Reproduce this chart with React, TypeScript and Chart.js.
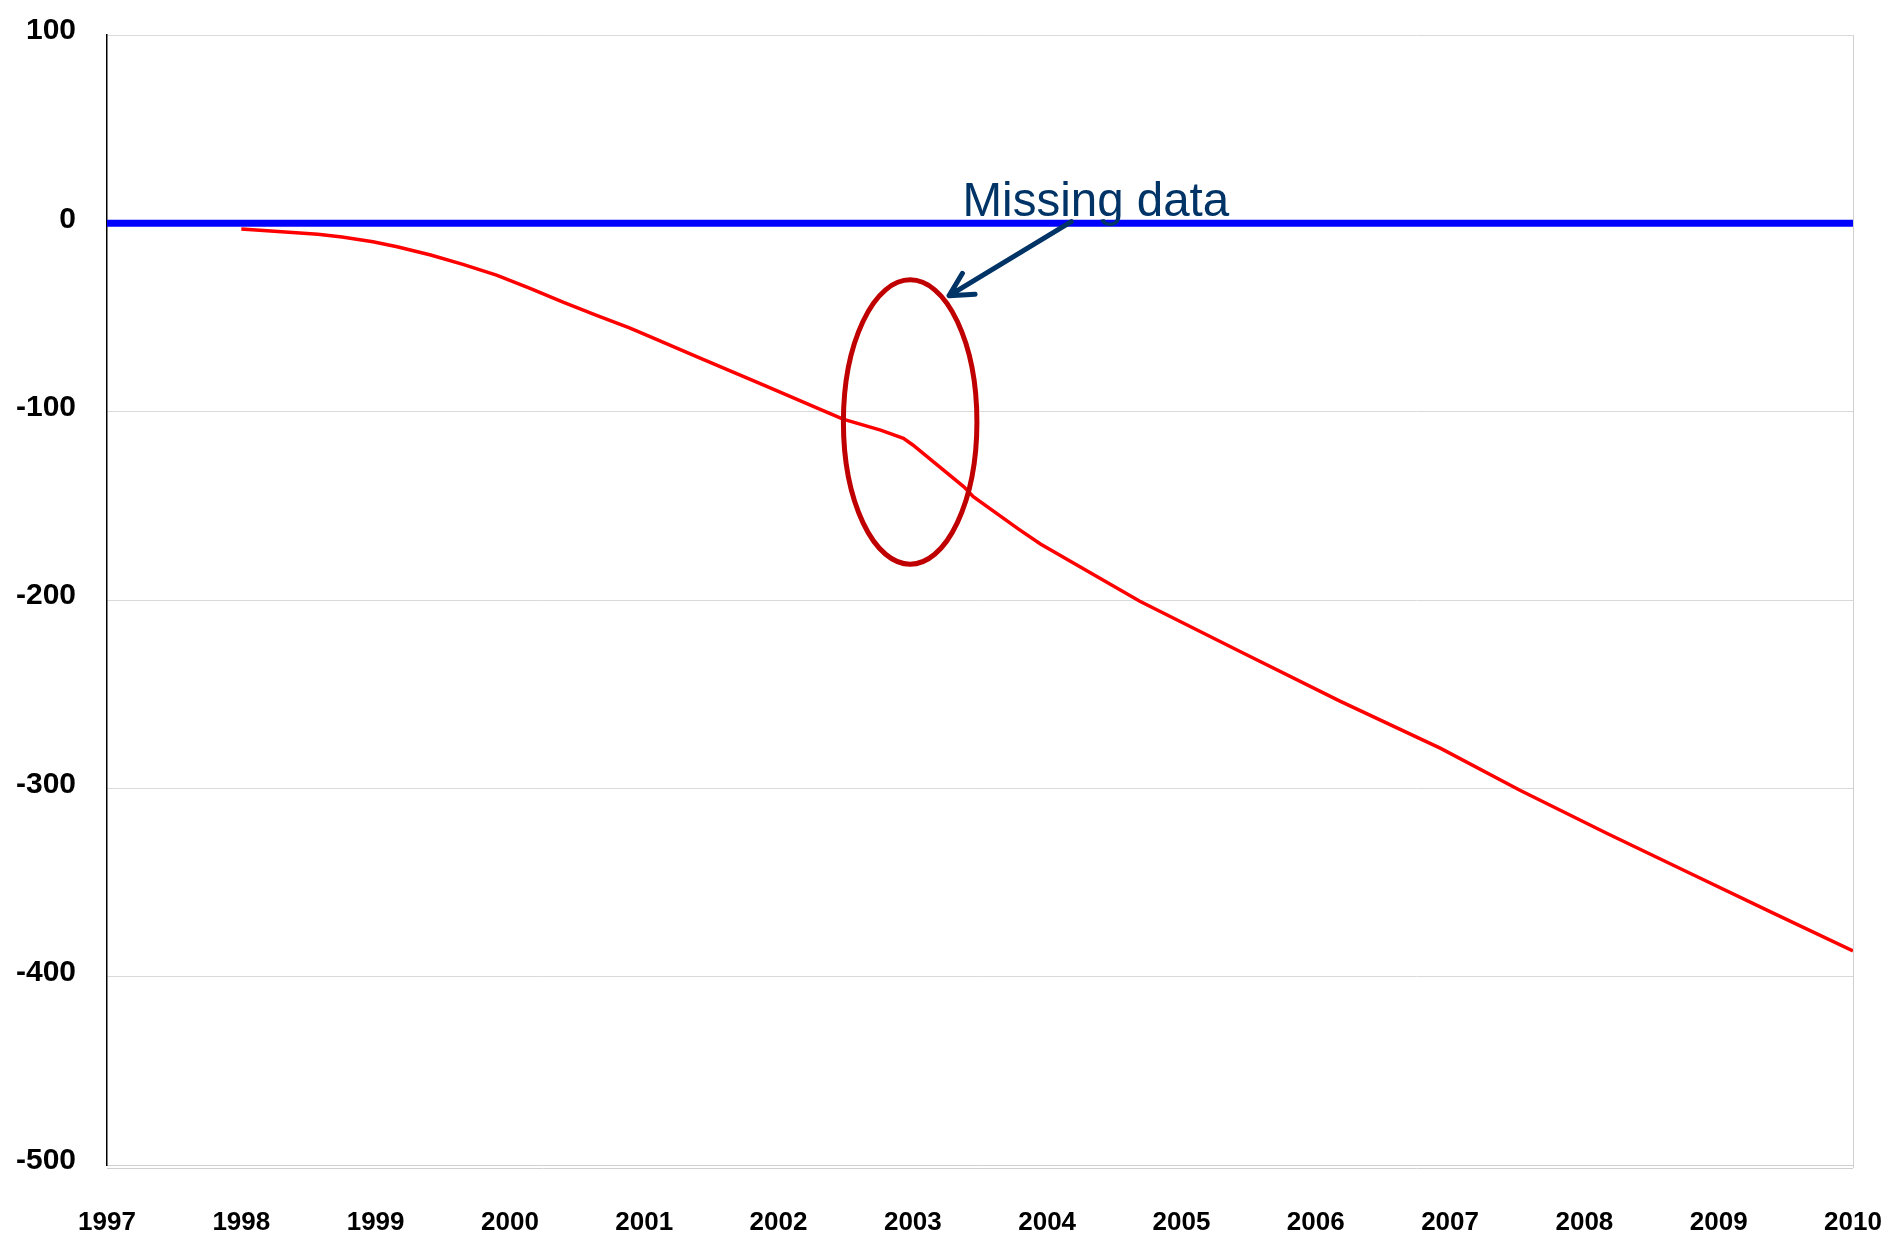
import React, { useEffect, useRef } from "react";
import { Chart, registerables } from "chart.js";

Chart.register(...registerables);

// ---- Data ----
const xTickValues = [1997, 1998, 1999, 2000, 2001, 2002, 2003, 2004, 2005, 2006, 2007, 2008, 2009, 2010];
const xTickLabels = ["1997", "1998", "1999", "2000", "2001", "2002", "2003", "2004", "2005", "2006", "2007", "2008", "2009", "2010"];
const yTickValues = [-500, -400, -300, -200, -100, 0, 100];
const yTickLabels = ["-500", "-400", "-300", "-200", "-100", "0", "100"];

const baselineYears = [1997, 2010];
const baselineValues = [0, 0];

const cumulativeYears = [
  1998.0, 1998.3, 1998.57, 1998.75, 1998.98, 1999.16, 1999.41, 1999.65, 1999.9,
  2000.15, 2000.4, 2000.65, 2000.89, 2001.03, 2001.39, 2001.89, 2002.38, 2002.48,
  2002.76, 2002.93, 2003.0, 2003.38, 2003.45, 2003.79, 2003.95, 2004.69, 2005.44,
  2006.18, 2006.93, 2007.52, 2008.17, 2008.79, 2009.41, 2010.0,
];
const cumulativeValues = [
  -3, -4.5, -5.8, -7.3, -9.8, -12.4, -16.8, -21.8, -27.5,
  -34.5, -42, -49, -55.5, -59.7, -70.8, -85.9, -100.9, -104,
  -109.8, -114.2, -117.7, -139.9, -145.2, -162.5, -170.3, -200.7, -227.5,
  -253.7, -278.8, -301, -324, -345.2, -366.4, -386.3,
];

const annotationText = "Missing data";

const FONT = '"Liberation Sans", Arial, Helvetica, sans-serif';

const annotationPlugin = {
  id: "missingDataAnnotation",
  afterDatasetsDraw(chart: any) {
    const { ctx, chartArea } = chart;
    const xs = chart.scales.x;
    const ys = chart.scales.y;
    ctx.save();

    // frame: right border and doubled bottom line
    ctx.strokeStyle = "#D0D0D0";
    ctx.lineWidth = 1;
    ctx.beginPath();
    ctx.moveTo(Math.round(chartArea.right) + 0.5, chartArea.top);
    ctx.lineTo(Math.round(chartArea.right) + 0.5, chartArea.bottom + 3);
    ctx.moveTo(chartArea.left, Math.round(chartArea.bottom) + 3.5);
    ctx.lineTo(chartArea.right, Math.round(chartArea.bottom) + 3.5);
    ctx.stroke();

    // ellipse around the gap
    const cx = xs.getPixelForValue(2002.98);
    const cy = ys.getPixelForValue(-105.5);
    const rx = Math.abs(xs.getPixelForValue(2003.477) - cx);
    const ry = Math.abs(ys.getPixelForValue(-30) - cy);
    ctx.strokeStyle = "#C00000";
    ctx.lineWidth = 5;
    ctx.beginPath();
    ctx.ellipse(cx, cy, rx, ry, 0, 0, Math.PI * 2);
    ctx.stroke();

    // arrow
    const tx = xs.getPixelForValue(2004.18);
    const ty = ys.getPixelForValue(0.85);
    const hx = xs.getPixelForValue(2003.27);
    const hy = ys.getPixelForValue(-38.4);
    const ang = Math.atan2(ty - hy, tx - hx);
    const barb = 26;
    const spread = (28 * Math.PI) / 180;
    ctx.strokeStyle = "#003366";
    ctx.lineWidth = 5;
    ctx.lineCap = "round";
    ctx.lineJoin = "round";
    ctx.beginPath();
    ctx.moveTo(tx, ty);
    ctx.lineTo(hx, hy);
    ctx.moveTo(hx + barb * Math.cos(ang - spread), hy + barb * Math.sin(ang - spread));
    ctx.lineTo(hx, hy);
    ctx.lineTo(hx + barb * Math.cos(ang + spread), hy + barb * Math.sin(ang + spread));
    ctx.stroke();

    // label
    ctx.fillStyle = "#003366";
    ctx.font = `47.5px ${FONT}`;
    ctx.textAlign = "left";
    ctx.textBaseline = "alphabetic";
    ctx.fillText(annotationText, xs.getPixelForValue(2003.37), ys.getPixelForValue(4));
    ctx.restore();
  },
};

export default function App() {
  const canvasRef = useRef<HTMLCanvasElement | null>(null);

  useEffect(() => {
    const canvas = canvasRef.current;
    if (!canvas) return;
    const chart = new Chart(canvas, {
      type: "line",
      data: {
        datasets: [
          {
            label: "Reference",
            data: baselineYears.map((x, i) => ({ x, y: baselineValues[i] })),
            borderColor: "#0000FF",
            borderWidth: 7,
            pointRadius: 0,
            fill: false,
          },
          {
            label: "Cumulative",
            data: cumulativeYears.map((x, i) => ({ x, y: cumulativeValues[i] })),
            borderColor: "#FF0000",
            borderWidth: 3.5,
            pointRadius: 0,
            fill: false,
            tension: 0,
          },
        ],
      },
      options: {
        responsive: false,
        animation: false,
        maintainAspectRatio: false,
        layout: { padding: { left: 0, right: 46, top: 35, bottom: 0 } },
        plugins: {
          legend: { display: false },
          tooltip: { enabled: false },
          title: { display: false },
        },
        scales: {
          x: {
            type: "linear",
            min: 1997,
            max: 2010,
            afterBuildTicks: (scale: any) => {
              scale.ticks = xTickValues.map((v) => ({ value: v }));
            },
            afterFit: (scale: any) => {
              scale.height = 83;
              scale.paddingLeft = 0;
              scale.paddingRight = 0;
              scale.paddingTop = 0;
              scale.paddingBottom = 0;
            },
            grid: { display: false, drawTicks: false },
            border: { display: true, color: "#D0D0D0", width: 1 },
            ticks: {
              autoSkip: false,
              maxRotation: 0,
              padding: 42,
              color: "#000000",
              font: { family: FONT, size: 26, weight: "bold" },
              callback: (_v: any, i: number) => xTickLabels[i],
            },
          },
          y: {
            type: "linear",
            min: -500,
            max: 100,
            afterBuildTicks: (scale: any) => {
              scale.ticks = yTickValues.map((v) => ({ value: v }));
            },
            afterFit: (scale: any) => {
              scale.width = 107;
              scale.paddingLeft = 0;
              scale.paddingRight = 0;
              scale.paddingTop = 0;
              scale.paddingBottom = 0;
            },
            grid: { color: "#D9D9D9", lineWidth: 1, drawTicks: false },
            border: { display: true, color: "#000000", width: 1.5 },
            ticks: {
              padding: 31,
              labelOffset: -4,
              color: "#000000",
              font: { family: FONT, size: 30, weight: "bold" },
              callback: (_v: any, i: number) => yTickLabels[i],
            },
          },
        },
      },
      plugins: [annotationPlugin],
    });
    return () => chart.destroy();
  }, []);

  return (
    <div style={{ position: "absolute", left: 0, top: 0, width: 1899, height: 1248, background: "#fff" }}>
      <canvas ref={canvasRef} width={1899} height={1248} style={{ display: "block", width: 1899, height: 1248 }} />
    </div>
  );
}
